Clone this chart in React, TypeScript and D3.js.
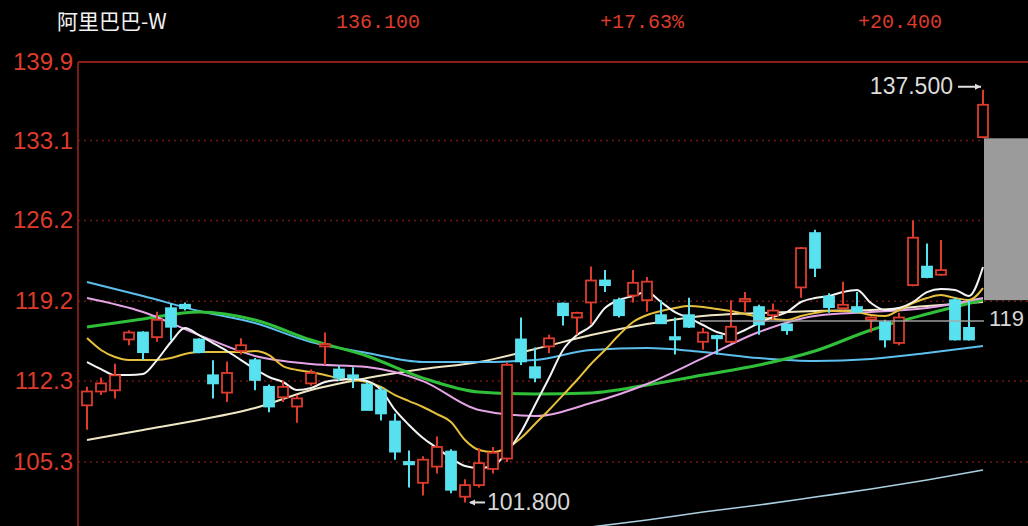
import React from "react";
import * as d3 from "d3";

const stockName = "阿里巴巴-W";
const headerPrice = "136.100";
const headerPct = "+17.63%";
const headerChg = "+20.400";

const yTicks = [139.9, 133.1, 126.2, 119.2, 112.3, 105.3];

// daily candles (open, high, low, close)
const opens = [110.2, 111.4, 111.5, 115.9, 116.5, 116.1, 118.6, 118.9, 115.9, 112.8, 111.3, 114.9, 114.1, 111.8, 110.9, 110.1, 112.1, 115.3, 113.3, 112.8, 112.0, 111.5, 108.8, 105.3, 103.5, 104.9, 106.2, 102.3, 103.3, 104.7, 105.6, 115.9, 113.5, 115.3, 119.0, 117.8, 119.1, 121.0, 119.3, 119.7, 119.3, 118.0, 116.1, 118.0, 115.7, 116.2, 115.7, 119.2, 118.7, 118.0, 117.2, 120.4, 125.1, 119.6, 118.6, 118.7, 117.6, 117.4, 115.6, 120.6, 122.2, 121.5, 119.3, 116.9, 133.4];
const highs = [111.8, 112.6, 113.8, 116.7, 116.6, 118.3, 119.0, 119.1, 116.0, 114.1, 114.0, 116.0, 114.3, 112.0, 112.3, 111.1, 113.3, 116.5, 113.6, 113.5, 112.2, 111.8, 109.5, 106.3, 105.8, 107.5, 106.4, 103.8, 106.5, 106.6, 113.9, 117.8, 115.2, 116.3, 119.1, 118.3, 122.2, 121.9, 119.5, 121.9, 121.3, 119.3, 117.8, 119.5, 116.9, 116.3, 119.3, 120.0, 118.9, 119.0, 117.3, 123.9, 125.4, 119.9, 120.9, 120.0, 117.9, 117.6, 118.2, 126.2, 124.2, 124.5, 119.5, 119.3, 137.5];
const lows = [108.1, 111.1, 110.8, 115.4, 114.1, 115.7, 115.8, 118.4, 114.7, 110.8, 110.5, 114.6, 111.5, 109.6, 110.5, 108.7, 111.9, 113.7, 112.3, 111.7, 109.8, 108.9, 105.5, 103.1, 102.4, 104.3, 102.6, 101.8, 103.1, 104.3, 105.3, 113.7, 112.2, 114.7, 117.1, 116.3, 117.2, 120.0, 117.8, 119.1, 118.3, 117.3, 114.6, 116.9, 115.0, 114.6, 115.6, 118.3, 116.3, 117.6, 116.3, 119.5, 121.3, 118.2, 118.5, 118.2, 116.5, 115.2, 115.4, 120.5, 121.2, 121.4, 115.8, 115.8, 133.3];
const closes = [111.4, 112.1, 112.8, 116.5, 114.8, 117.6, 117.0, 118.6, 114.8, 112.1, 113.0, 115.4, 112.4, 110.1, 111.8, 110.8, 113.0, 115.5, 112.6, 112.6, 109.8, 109.5, 106.2, 105.1, 105.5, 106.6, 102.9, 103.3, 105.2, 106.1, 113.7, 114.0, 112.6, 116.0, 118.0, 118.2, 121.0, 120.6, 118.0, 120.8, 120.9, 117.3, 115.9, 117.0, 116.5, 116.0, 117.0, 119.4, 117.2, 118.4, 116.7, 123.8, 122.1, 118.7, 118.9, 118.3, 117.8, 115.9, 117.8, 124.7, 121.3, 121.9, 115.9, 115.9, 136.2];

// moving averages, one value per candle
const ma5 = [113.95, 113.34, 112.82, 112.82, 112.91, 114.12, 115.68, 116.89, 116.28, 115.59, 114.9, 114.12, 113.34, 112.65, 112.22, 111.53, 111.7, 112.22, 112.39, 112.48, 112.3, 111.53, 109.8, 108.5, 107.37, 106.51, 105.64, 104.95, 104.78, 104.95, 106.16, 107.89, 110.23, 112.56, 114.99, 116.28, 117.06, 118.62, 119.31, 119.66, 120.0, 119.14, 118.27, 117.75, 117.15, 116.54, 116.28, 116.72, 117.32, 117.84, 118.27, 119.14, 119.48, 119.66, 120.0, 120.18, 119.05, 118.45, 118.62, 119.14, 120.0, 120.26, 120.18, 119.66, 122.17];
const ma10 = [116.02, 114.99, 114.38, 114.12, 114.12, 114.12, 114.29, 114.64, 114.81, 114.81, 114.81, 114.81, 114.9, 114.55, 113.6, 113.26, 113.08, 112.82, 112.56, 112.39, 112.22, 111.79, 111.09, 110.57, 110.06, 109.45, 108.76, 107.2, 106.34, 106.16, 106.51, 107.37, 108.59, 109.8, 111.09, 112.39, 113.78, 114.99, 116.28, 117.41, 118.01, 118.36, 118.62, 118.79, 118.71, 118.53, 118.36, 118.1, 117.84, 117.67, 117.58, 117.93, 118.19, 118.36, 118.36, 118.27, 118.01, 117.93, 118.45, 119.05, 119.48, 119.74, 119.48, 119.31, 120.35];

// smoother averages, one value every fourth candle
const sparseIdx = [0, 4, 8, 12, 16, 20, 24, 28, 32, 36, 40, 44, 48, 52, 56, 60, 64];
const ma20 = [119.48, 118.27, 116.28, 114.47, 113.78, 113.52, 112.3, 109.8, 109.28, 110.4, 112.05, 114.29, 116.54, 117.93, 118.27, 118.62, 119.48];
const ma30 = [116.98, 117.67, 118.27, 117.58, 115.85, 114.47, 112.56, 111.35, 111.18, 111.27, 111.96, 112.82, 113.69, 114.9, 116.72, 118.1, 119.31];
const ma60 = [120.87, 119.66, 118.36, 117.32, 115.68, 114.73, 113.95, 113.95, 114.12, 114.99, 115.16, 114.81, 114.29, 114.03, 114.21, 114.73, 115.33];
const ma120 = [107.2, 108.07, 108.93, 109.97, 111.53, 112.56, 113.34, 113.95, 115.07, 116.28, 117.23, 117.93, 118.19, 118.36, 118.45, 118.79, 119.14];
const ma250Idx = [36, 40, 44, 48, 52, 56, 60, 64];
const ma250 = [99.68, 100.28, 100.97, 101.58, 102.27, 102.96, 103.74, 104.61];

const highLabel = "137.500";
const lowLabel = "101.800";
const gapTop = 133.3;
const gapBottom = 119.3;
const gapLabel = "119";

const W = 1028;
const H = 526;
const RED = "#dd3b2c";
const CYAN = "#58e2f0";

export default function App() {
  const x = d3.scaleLinear().domain([0, 64]).range([87, 983]);
  const y = d3.scaleLinear().domain([105.3, 139.9]).range([462, 62]);

  const denseLine = d3
    .line<number>()
    .x((_, i) => x(i))
    .y((d) => y(d))
    .curve(d3.curveMonotoneX);
  const sparseLine = (idx: number[]) =>
    d3
      .line<number>()
      .x((_, i) => x(idx[i]))
      .y((d) => y(d))
      .curve(d3.curveMonotoneX);

  const bodyW = 10;
  const iHigh = highs.indexOf(d3.max(highs) as number);
  const iLow = lows.indexOf(d3.min(lows) as number);

  return (
    <svg
      width={W}
      height={H}
      style={{ position: "absolute", left: 0, top: 0, background: "#000", display: "block" }}
    >
      <rect x={0} y={0} width={W} height={H} fill="#000" />
      {/* header */}
      <text x={57} y={29} fill="#f2f2f2" fontSize={21} fontFamily="'Noto Sans CJK SC', sans-serif">
        {stockName}
      </text>
      <text x={336} y={28} fill={RED} fontSize={20} fontFamily="'Liberation Mono', monospace">
        {headerPrice}
      </text>
      <text x={600} y={28} fill={RED} fontSize={20} fontFamily="'Liberation Mono', monospace">
        {headerPct}
      </text>
      <text x={858} y={28} fill={RED} fontSize={20} fontFamily="'Liberation Mono', monospace">
        {headerChg}
      </text>

      {/* grid */}
      {yTicks.map((t, k) => (
        <g key={t}>
          <line
            x1={78}
            x2={W}
            y1={y(t)}
            y2={y(t)}
            stroke={k === 0 ? "#8a1e16" : "#6e1a14"}
            strokeWidth={k === 0 ? 2 : 1.5}
            strokeDasharray={k === 0 ? undefined : "2,4"}
          />
          <text
            x={73}
            y={y(t) + 8}
            textAnchor="end"
            fill={RED}
            fontSize={24}
            fontFamily="'Liberation Sans', Arial, sans-serif"
          >
            {t.toFixed(1)}
          </text>
        </g>
      ))}
      <line x1={78} x2={78} y1={62} y2={H} stroke="#7a1c15" strokeWidth={2} />

      {/* moving averages */}
      <path d={sparseLine(ma250Idx)(ma250) || ""} fill="none" stroke="#a9cfe0" strokeWidth={1.6} />
      <path d={sparseLine(sparseIdx)(ma120) || ""} fill="none" stroke="#efe7c4" strokeWidth={2} />
      <path d={sparseLine(sparseIdx)(ma60) || ""} fill="none" stroke="#5cbfee" strokeWidth={2} />
      <path d={sparseLine(sparseIdx)(ma30) || ""} fill="none" stroke="#2fbf38" strokeWidth={3} />
      <path d={sparseLine(sparseIdx)(ma20) || ""} fill="none" stroke="#e4a4e6" strokeWidth={2} />
      <path d={denseLine(ma10) || ""} fill="none" stroke="#e6c03c" strokeWidth={2} />
      <path d={denseLine(ma5) || ""} fill="none" stroke="#f4f4f4" strokeWidth={2} />

      {/* candles */}
      {opens.map((o, i) => {
        const c = closes[i];
        const up = c >= o;
        const col = up ? RED : CYAN;
        const top = y(Math.max(o, c));
        const bot = y(Math.min(o, c));
        const h = Math.max(bot - top, 2);
        return (
          <g key={i}>
            <line x1={x(i)} x2={x(i)} y1={y(highs[i])} y2={y(lows[i])} stroke={col} strokeWidth={2} />
            <rect
              x={x(i) - bodyW / 2}
              y={top}
              width={bodyW}
              height={h}
              fill={up ? "#000" : col}
              stroke={col}
              strokeWidth={1.8}
            />
          </g>
        );
      })}

      {/* gap box */}
      <rect x={984} y={y(gapTop)} width={W - 984} height={y(gapBottom) - y(gapTop)} fill="#9b9b9b" />
      <line x1={700} x2={984} y1={321} y2={321} stroke="#a8a8a8" strokeWidth={2} opacity={0.7} />
      <text x={989} y={326} fill="#d6d6d6" fontSize={22} fontFamily="'Liberation Sans', Arial, sans-serif">
        {gapLabel}
      </text>

      {/* high marker */}
      <text
        x={x(iHigh) - 30}
        y={y(highs[iHigh]) + 4}
        textAnchor="end"
        fill="#dcdcdc"
        fontSize={23}
        fontFamily="'Liberation Sans', Arial, sans-serif"
      >
        {highLabel}
      </text>
      <line x1={x(iHigh) - 25} x2={x(iHigh) - 2} y1={y(highs[iHigh]) - 3} y2={y(highs[iHigh]) - 3} stroke="#e0e0e0" strokeWidth={2} />
      <path
        d={`M${x(iHigh) - 2},${y(highs[iHigh]) - 3} l-6,-3 l0,6 z`}
        fill="#e0e0e0"
      />

      {/* low marker */}
      <line x1={x(iLow) + 5} x2={x(iLow) + 20} y1={y(lows[iLow])} y2={y(lows[iLow])} stroke="#dcdcdc" strokeWidth={2} />
      <path d={`M${x(iLow) + 4},${y(lows[iLow])} l6,-3 l0,6 z`} fill="#dcdcdc" />
      <text
        x={x(iLow) + 22}
        y={y(lows[iLow]) + 8}
        fill="#d6d6d6"
        fontSize={23}
        fontFamily="'Liberation Sans', Arial, sans-serif"
      >
        {lowLabel}
      </text>
    </svg>
  );
}
